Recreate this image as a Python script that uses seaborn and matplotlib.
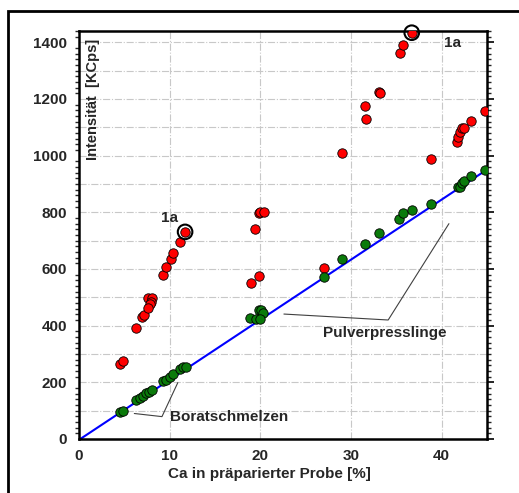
import matplotlib
matplotlib.use("Agg")
import matplotlib.pyplot as plt
import seaborn as sns
import numpy as np
import pandas as pd
from matplotlib.ticker import MultipleLocator
from matplotlib.patches import Rectangle

# ---- data ----
red_x = [4.5, 4.9, 6.3, 6.9, 7.2, 7.6, 8.1, 7.9, 7.8, 7.6, 9.3, 9.6, 10.1, 10.4, 11.1, 11.7,
         19.0, 19.4, 19.9, 20.0, 20.4, 19.9, 27.0, 29.0, 31.5, 31.6, 33.1, 33.2, 35.4, 35.7, 36.7,
         38.8, 41.7, 41.8, 42.0, 42.2, 42.5, 43.2, 44.8]
red_y = [265, 275, 393, 431, 436, 498, 498, 484, 475, 464, 578, 608, 637, 657, 697, 731,
         549, 740, 796, 800, 800, 575, 604, 1008, 1177, 1130, 1224, 1222, 1364, 1390, 1434,
         987, 1049, 1066, 1084, 1096, 1099, 1123, 1158]
green_x = [4.5, 4.9, 6.3, 6.7, 7.1, 7.4, 7.7, 8.0, 9.3, 9.6, 10.0, 10.4, 11.1, 11.5, 11.8,
           18.9, 19.5, 19.9, 20.1, 20.3, 20.0, 27.0, 29.0, 31.5, 33.1, 35.3, 35.7, 36.7, 38.8,
           41.8, 42.0, 42.2, 42.5, 43.2, 44.8]
green_y = [96, 100, 138, 143, 153, 161, 167, 173, 205, 210, 220, 231, 246, 253, 253,
           428, 422, 455, 455, 443, 422, 573, 634, 690, 728, 778, 796, 808, 828,
           888, 890, 904, 910, 928, 951]
line_x = [0, 45]
line_y = [-3, 951]
xticks = [0, 10, 20, 30, 40]
yticks = [0, 200, 400, 600, 800, 1000, 1200, 1400]

df_red = pd.DataFrame({"x": red_x, "y": red_y})
df_green = pd.DataFrame({"x": green_x, "y": green_y})
df_line = pd.DataFrame({"x": line_x, "y": line_y})

sns.set_style("white")
plt.rcParams["font.family"] = ["Liberation Sans", "DejaVu Sans"]
plt.rcParams["font.weight"] = "bold"

W, H = 519, 493
fig = plt.figure(figsize=(W / 100, H / 100), dpi=100)
ax = fig.add_axes([79 / W, 1 - 439 / H, (487 - 79) / W, (439 - 31) / H])

sns.lineplot(data=df_line, x="x", y="y", ax=ax, color="#0000ff", lw=1.5, zorder=2)
sns.scatterplot(data=df_red, x="x", y="y", ax=ax, color="#ff0000", edgecolor="black",
                linewidth=0.6, s=46, zorder=3)
sns.scatterplot(data=df_green, x="x", y="y", ax=ax, color="#0a7a0a", edgecolor="black",
                linewidth=0.6, s=46, zorder=3)

# circled points
ax.scatter([11.7, 36.7], [731, 1434], s=110, facecolors="none", edgecolors="black",
           linewidths=1.5, zorder=4, clip_on=False)
ax.text(9.0, 765, "1a", fontsize=11, fontweight="bold")
ax.text(40.3, 1385, "1a", fontsize=11, fontweight="bold")

# leader lines
ax.plot([6.1, 9.15, 10.9], [90, 79, 199], color="#404040", lw=0.8, zorder=1)
ax.text(10.0, 78, "Boratschmelzen", fontsize=11, fontweight="bold", va="center")
ax.plot([22.6, 34.1, 40.8], [441, 420, 760], color="#404040", lw=0.8, zorder=1)
ax.text(33.7, 375, "Pulverpresslinge", fontsize=11, fontweight="bold", va="center", ha="center")

ax.set_xlim(0, 45)
ax.set_ylim(0, 1440)
ax.set_xticks(xticks)
ax.set_yticks(yticks)
ax.xaxis.set_minor_locator(MultipleLocator(2.5))
ax.yaxis.set_minor_locator(MultipleLocator(20))
ax.grid(True, which="major", axis="x", color="#c8c8c8", linestyle="-.", lw=0.8)
for v in range(100, 1440, 100):
    ax.axhline(v, color="#c8c8c8", linestyle="-.", lw=0.8, zorder=0)
ax.tick_params(axis="both", which="major", labelsize=11, length=5, width=1.2, color="black")
ax.tick_params(axis="x", which="major", direction="inout", length=7)
ax.tick_params(axis="x", which="minor", direction="out", length=3, width=1)
ax.tick_params(axis="y", which="major", direction="out", length=5, right=True)
ax.tick_params(axis="y", which="minor", direction="out", length=3, width=1, left=True, right=True)
for lbl in ax.get_xticklabels() + ax.get_yticklabels():
    lbl.set_fontweight("bold")
for s in ax.spines.values():
    s.set_visible(True)
    s.set_color("black")
    s.set_linewidth(1.8)

ax.set_xlabel("")
ax.set_ylabel("")
ax.text(0.035, 0.98, "Intensität  [KCps]", transform=ax.transAxes, rotation=90,
        ha="center", va="top", fontsize=10.5, fontweight="bold")
fig.text(269 / W, 1 - 474 / H, "Ca in präparierter Probe [%]", ha="center", va="center",
         fontsize=11, fontweight="bold")

# outer frame
fig.patches.append(Rectangle((8 / W, -0.05), 1.2, 1 - 11 / H + 0.05, transform=fig.transFigure,
                             fill=False, edgecolor="black", lw=2))

fig.savefig("out.png", dpi=100)
